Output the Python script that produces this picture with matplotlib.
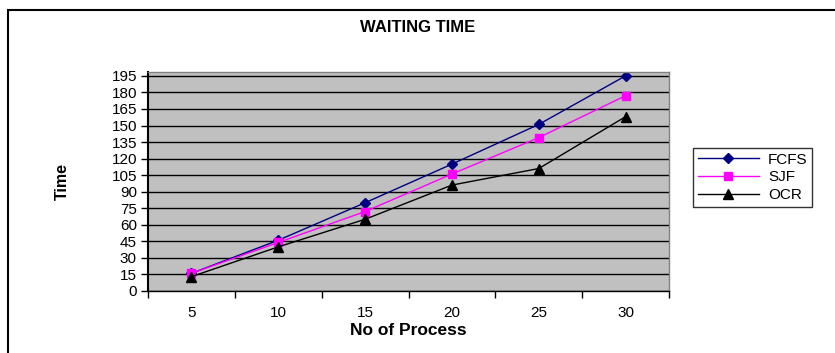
import matplotlib.pyplot as plt
from matplotlib.patches import Rectangle

plt.rcParams['font.family'] = ['Liberation Sans', 'DejaVu Sans']

processes = [5, 10, 15, 20, 25, 30]
fcfs = [16, 46, 80, 115, 151, 195]
sjf = [16, 44, 72, 106, 139, 177]
ocr = [13, 40, 65, 96, 111, 158]
yticks = list(range(0, 196, 15))

fig = plt.figure(figsize=(8.35, 3.53), dpi=100)
fig.patches.append(Rectangle((8 / 835, -0.1), 1.2, (353 - 10) / 353 + 0.1,
                             transform=fig.transFigure, fill=False,
                             edgecolor='black', linewidth=1.5))

ax = fig.add_axes([148 / 835, 1 - 291 / 353, (669 - 148) / 835, (291 - 72) / 353])
ax.set_facecolor('#C0C0C0')

x = list(range(len(processes)))
ax.plot(x, fcfs, color='#000080', marker='D', markersize=5, linewidth=1, label='FCFS')
ax.plot(x, sjf, color='#FF00FF', marker='s', markersize=6, linewidth=1, label='SJF')
ax.plot(x, ocr, color='black', marker='^', markersize=7, linewidth=1, label='OCR')

ax.set_xlim(-0.5, len(processes) - 0.5)
ax.set_ylim(0, 198.5)
ax.set_yticks(yticks)
ax.set_yticklabels([str(v) for v in yticks], fontsize=11)
ax.yaxis.grid(True, color='black', linewidth=1)
ax.set_axisbelow(True)

ax.set_xticks(x)
ax.set_xticklabels([str(p) for p in processes], fontsize=11)
ax.tick_params(axis='x', which='major', length=0, pad=11)
ax.set_xticks([i - 0.5 for i in range(len(processes) + 1)], minor=True)
ax.tick_params(axis='x', which='minor', length=5, width=1, direction='out')
ax.tick_params(axis='y', length=5, width=1, direction='out', pad=3)

for s in ['top', 'right']:
    ax.spines[s].set_color('#808080')
    ax.spines[s].set_linewidth(1)
ax.spines['left'].set_linewidth(1.5)
ax.spines['bottom'].set_linewidth(1)

# label positions in pixels of the 835x353 figure
ax.set_xlabel('No of Process', fontsize=12.5, fontweight='bold')
ax.xaxis.set_label_coords((408 - 148) / 521, -(323 - 291) / 219)
ax.set_ylabel('Time', fontsize=11.5, fontweight='bold')
ax.yaxis.set_label_coords((70 - 148) / 521, 0.5)
fig.text(418 / 835, 1 - 28 / 353, 'WAITING TIME', ha='center', va='center',
         fontsize=12, fontweight='bold')

leg = fig.legend(loc='upper left', bbox_to_anchor=(693 / 835, 1 - 148 / 353),
                 fontsize=11, frameon=True, fancybox=False, edgecolor='black',
                 handlelength=4, borderpad=0.3, labelspacing=0.25,
                 handletextpad=0.6, borderaxespad=0)
leg.get_frame().set_linewidth(1)

fig.savefig('out.png', dpi=100)
